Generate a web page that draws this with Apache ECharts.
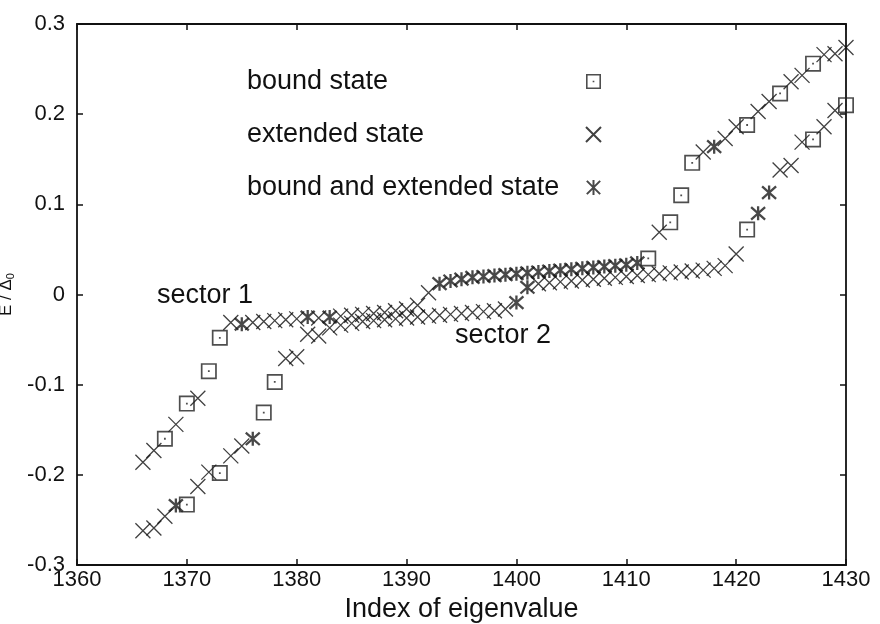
<!DOCTYPE html>
<html>
<head>
<meta charset="utf-8">
<script src="https://cdn.jsdelivr.net/npm/echarts@6/dist/echarts.min.js"></script>
<style>
  html, body { margin: 0; padding: 0; background: #fff; }
  #chart { width: 880px; height: 624px; }
</style>
</head>
<body>
<div id="chart"></div>
<script>
// Eigenvalue index for each sector
const sector1Index = [1366,1367,1368,1369,1370,1371,1372,1373,1374,1375,1376,1377,1378,1379,1380,1381,1382,1383,1384,1385,1386,1387,1388,1389,1390,1391,1392,1393,1394,1395,1396,1397,1398,1399,1400,1401,1402,1403,1404,1405,1406,1407,1408,1409,1410,1411,1412,1413,1414,1415,1416,1417,1418,1419,1420,1421,1422,1423,1424,1425,1426,1427,1428,1429,1430];
const sector1Energy = [-0.186,-0.173,-0.160,-0.144,-0.121,-0.115,-0.085,-0.048,-0.031,-0.033,-0.031,-0.030,-0.029,-0.028,-0.027,-0.025,-0.026,-0.025,-0.024,-0.023,-0.022,-0.021,-0.020,-0.018,-0.016,-0.012,0.002,0.012,0.015,0.017,0.019,0.020,0.021,0.022,0.023,0.024,0.025,0.026,0.027,0.028,0.029,0.030,0.031,0.032,0.033,0.035,0.040,0.069,0.080,0.110,0.146,0.158,0.164,0.173,0.186,0.188,0.203,0.214,0.223,0.236,0.243,0.256,0.266,0.267,0.274];
// State of each eigenvector: B = bound, E = extended, BE = bound and extended
const sector1State = ['E','E','B','E','B','E','B','B','E','BE','E','E','E','E','E','BE','E','BE','E','E','E','E','E','E','E','E','E','BE','BE','BE','BE','BE','BE','BE','BE','BE','BE','BE','BE','BE','BE','BE','BE','BE','BE','BE','B','E','B','B','B','E','BE','E','E','B','E','E','B','E','E','B','E','E','E'];

const sector2Index = [1366,1367,1368,1369,1370,1371,1372,1373,1374,1375,1376,1377,1378,1379,1380,1381,1382,1383,1384,1385,1386,1387,1388,1389,1390,1391,1392,1393,1394,1395,1396,1397,1398,1399,1400,1401,1402,1403,1404,1405,1406,1407,1408,1409,1410,1411,1412,1413,1414,1415,1416,1417,1418,1419,1420,1421,1422,1423,1424,1425,1426,1427,1428,1429,1430];
const sector2Energy = [-0.262,-0.259,-0.246,-0.234,-0.233,-0.213,-0.197,-0.198,-0.179,-0.168,-0.160,-0.131,-0.097,-0.071,-0.069,-0.044,-0.046,-0.037,-0.034,-0.032,-0.030,-0.029,-0.028,-0.027,-0.026,-0.025,-0.024,-0.023,-0.022,-0.021,-0.020,-0.019,-0.018,-0.016,-0.009,0.008,0.012,0.013,0.014,0.015,0.016,0.017,0.018,0.019,0.020,0.021,0.022,0.023,0.024,0.025,0.026,0.027,0.029,0.032,0.045,0.072,0.090,0.113,0.138,0.143,0.169,0.172,0.186,0.204,0.210];
const sector2State = ['E','E','E','BE','B','E','E','B','E','E','BE','B','B','E','E','E','E','E','E','E','E','E','E','E','E','E','E','E','E','E','E','E','E','E','BE','BE','E','E','E','E','E','E','E','E','E','E','E','E','E','E','E','E','E','E','E','B','BE','BE','E','E','E','B','E','E','B'];

const xTicks = [1360, 1430, 10];
const yTicks = [-0.3, 0.3, 0.1];

const stateNames = { B: 'bound state', E: 'extended state', BE: 'bound and extended state' };

function collect(code) {
  const pts = [];
  [[sector1Index, sector1Energy, sector1State], [sector2Index, sector2Energy, sector2State]].forEach(([idx, en, st]) => {
    idx.forEach((x, i) => { if (st[i] === code) pts.push([x, en[i]]); });
  });
  return pts;
}

const FONT = 'Liberation Sans, Arial, Helvetica, sans-serif';

// marker shapes
const squareDot = 'path://M0,0H16V16H0Z M1.7,1.7V14.3H14.3V1.7Z M7.1,7.1H8.9V8.9H7.1Z';
const cross = 'path://M0,0L16,16M16,0L0,16';
const star = 'path://M0,0L16,16M16,0L0,16M8,-1L8,17';

const chart = echarts.init(document.getElementById('chart'), null, { renderer: 'canvas' });

const frameLine = { show: true, onZero: false, lineStyle: { color: '#111', width: 1.8 } };
const tickStyle = { show: true, inside: true, length: 6, lineStyle: { color: '#111', width: 1.5 } };

const mirrorAxis = {
  axisLine: frameLine,
  axisTick: tickStyle,
  axisLabel: { show: false },
  splitLine: { show: false }
};

chart.setOption({
  animation: false,
  backgroundColor: '#fff',
  grid: { left: 77, right: 34, top: 24, bottom: 59, containLabel: false, outerBoundsMode: 'none' },
  xAxis: [
    {
      type: 'value', min: xTicks[0], max: xTicks[1], interval: xTicks[2],
      position: 'bottom',
      name: 'Index of eigenvalue', nameLocation: 'middle', nameGap: 29,
      nameTextStyle: { fontFamily: FONT, fontSize: 27, color: '#111' },
      axisLine: frameLine,
      axisTick: tickStyle,
      axisLabel: { fontFamily: FONT, fontSize: 22, color: '#111', margin: 4, formatter: v => String(v) },
      splitLine: { show: false }
    },
    Object.assign({ type: 'value', min: xTicks[0], max: xTicks[1], interval: xTicks[2], position: 'top' }, mirrorAxis)
  ],
  yAxis: [
    {
      type: 'value', min: yTicks[0], max: yTicks[1], interval: yTicks[2],
      position: 'left',
      name: 'E / Δ{sub|0}', nameLocation: 'middle', nameGap: 56, nameRotate: 90,
      nameTextStyle: { fontFamily: FONT, fontSize: 17, color: '#111',
        rich: { sub: { fontFamily: FONT, fontSize: 11, verticalAlign: 'bottom', padding: [8, 0, 0, 0] } } },
      axisLine: frameLine,
      axisTick: tickStyle,
      axisLabel: { fontFamily: FONT, fontSize: 22, color: '#111', margin: 12 },
      splitLine: { show: false }
    },
    Object.assign({ type: 'value', min: yTicks[0], max: yTicks[1], interval: yTicks[2], position: 'right' }, mirrorAxis)
  ],
  legend: {
    orient: 'vertical', left: 242, top: 63, itemGap: 26,
    align: 'right', selectedMode: false,
    itemWidth: 15, itemHeight: 15,
    formatter: name => '{t|' + name + '}',
    textStyle: { fontFamily: FONT, fontSize: 27, color: '#111',
      rich: { t: { fontFamily: FONT, fontSize: 27, color: '#111', width: 334, align: 'left' } } },
    data: [stateNames.B, stateNames.E, stateNames.BE]
  },
  graphic: [
    { type: 'text', left: 157, top: 282, style: { text: 'sector 1', font: '27px ' + FONT, fill: '#111' } },
    { type: 'text', left: 455, top: 322, style: { text: 'sector 2', font: '27px ' + FONT, fill: '#111' } }
  ],
  series: [
    {
      name: stateNames.E, type: 'scatter', data: collect('E'),
      symbol: cross, symbolSize: 15,
      itemStyle: { color: 'transparent', borderColor: '#111', borderWidth: 1.3 }
    },
    {
      name: stateNames.BE, type: 'scatter', data: collect('BE'),
      symbol: star, symbolSize: 14,
      itemStyle: { color: 'transparent', borderColor: '#1a1a1a', borderWidth: 2.3 }
    },
    {
      name: stateNames.B, type: 'scatter', data: collect('B'),
      symbol: squareDot, symbolSize: 16,
      itemStyle: { color: '#222' }
    }
  ]
});
</script>
</body>
</html>
